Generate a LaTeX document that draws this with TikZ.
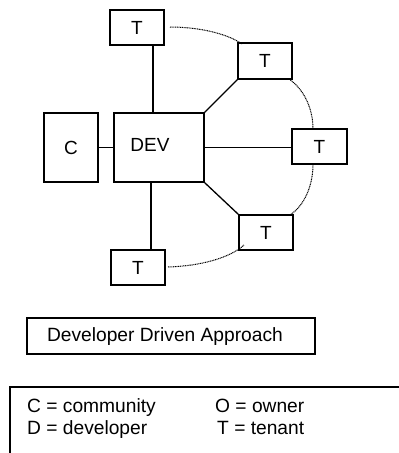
\documentclass[tikz,border=0pt]{standalone}
\usepackage{fontspec}
\setmainfont{Liberation Sans}
\begin{document}
\begin{tikzpicture}[x=1pt,y=-1pt,
  box/.style={draw,line width=1.4pt,inner sep=0pt,font=\fontsize{19}{21}\selectfont},
  tbox/.style={box,minimum width=54pt,minimum height=35pt},
  link/.style={line width=1.3pt},
  tie/.style={line width=1pt,dash pattern=on 1pt off 0.7pt},
  legend/.style={anchor=base west,inner sep=0pt,font=\fontsize{19.2}{21}\selectfont}]
\useasboundingbox (0,0) rectangle (399,453);
% parties
\node[tbox] (t1) at (137,27.5) {T};
\node[tbox,minimum height=36pt] (t2) at (265,61) {T};
\node[box,minimum width=90pt,minimum height=69pt] (dev) at (159,147.5) {};
\node[font=\fontsize{19}{21}\selectfont,inner sep=0pt] (devlbl) at (150,145) {DEV};
\node[box,minimum width=54pt,minimum height=69pt] (c) at (71,147.5) {C};
\node[tbox,minimum width=55pt] (t3) at (319.5,146.5) {T};
\node[tbox] (t4) at (266,232.5) {T};
\node[tbox] (t5) at (138,267.5) {T};
% solid links from the developer
\draw[link] ([xshift=16pt]t1.south) -- ([xshift=16pt]t1.south |- dev.north);
\draw[link] (c.east) -- (dev.west);
\draw[link] (dev.north east) -- (t2.south west);
\draw[link] (dev.east) -- (dev.east -| t3.west);
\draw[link] (dev.south east) -- (t4.north west);
\draw[link] ([xshift=13pt]t5.north |- dev.south) -- ([xshift=13pt]t5.north);
% dotted ring between tenants
\coordinate (a1) at (170,27);   \coordinate (b1) at (242,44);
\coordinate (a2) at (289,79);   \coordinate (b2) at (313,129);
\coordinate (a3) at (313,164);  \coordinate (b3) at (290,215);
\coordinate (a4) at (168,267);  \coordinate (b4) at (244,245);
\draw[tie] (a1) .. controls (200,27) and (228,34) .. (b1);
\draw[tie] (a2) .. controls (305,90) and (313,110) .. (b2);
\draw[tie] (a3) .. controls (313,185) and (305,205) .. (b3);
\draw[tie] (a4) .. controls (200,266) and (230,258) .. (b4);
% title
\node[draw,line width=1.2pt,minimum width=288pt,minimum height=36pt,inner sep=0pt] (title) at (171,336) {};
\node[inner sep=0pt,font=\fontsize{19.2}{21}\selectfont] (titletext) at (165,337) {Developer Driven Approach};
% legend
\coordinate (lgA) at (10,453);
\coordinate (lgB) at (10,387);
\coordinate (lgC) at (399,387);
\draw[line width=1.2pt] (lgA) -- (lgB) -- (lgC);
\node[legend] (l1) at (27,412) {C = community};
\node[legend] (l2) at (27,434) {D = developer};
\node[legend] (l3) at (215,412) {O = owner};
\node[legend] (l4) at (217,434) {T = tenant};
\end{tikzpicture}
\end{document}
